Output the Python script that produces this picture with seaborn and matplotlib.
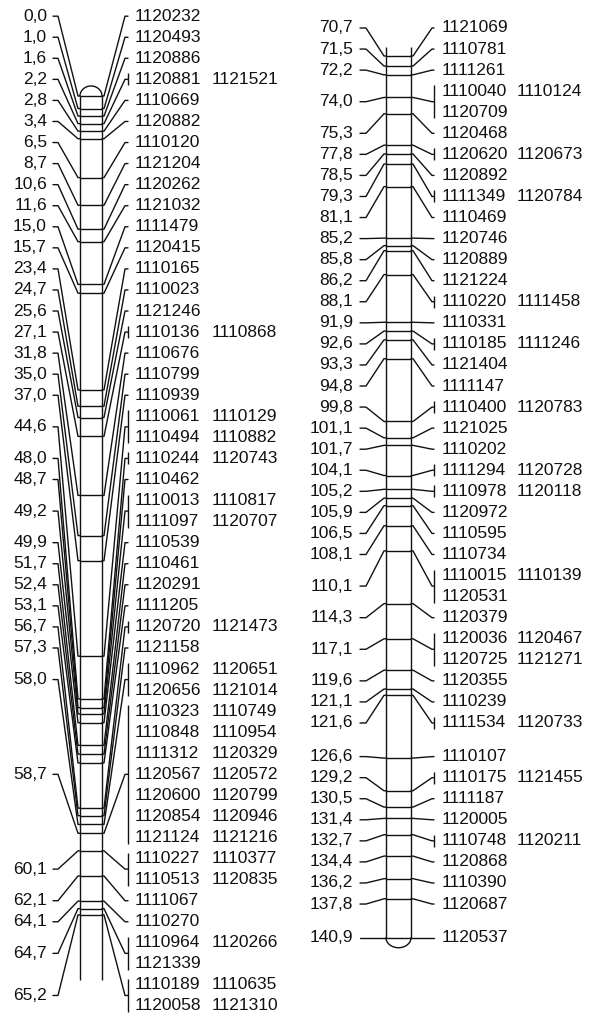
import numpy as np
import pandas as pd
import matplotlib
matplotlib.use("Agg")
import matplotlib.pyplot as plt
import seaborn as sns

# ---------------- data ----------------
left_cm = [0.0, 1.0, 1.6, 2.2, 2.8, 3.4, 6.5, 8.7, 10.6, 11.6, 15.0, 15.7, 23.4, 24.7,
           25.6, 27.1, 31.8, 35.0, 37.0, 44.6, 48.0, 48.7, 49.2, 49.9, 51.7, 52.4, 53.1,
           56.7, 57.3, 58.0, 58.7, 60.1, 62.1, 64.1, 64.7, 65.2]
left_markers = [
    ["1120232"], ["1120493"], ["1120886"], ["1120881", "1121521"], ["1110669"],
    ["1120882"], ["1110120"], ["1121204"], ["1120262"], ["1121032"], ["1111479"],
    ["1120415"], ["1110165"], ["1110023"], ["1121246"], ["1110136", "1110868"],
    ["1110676"], ["1110799"], ["1110939"],
    ["1110061", "1110129", "1110494", "1110882"], ["1110244", "1120743"], ["1110462"],
    ["1110013", "1110817", "1111097", "1120707"], ["1110539"], ["1110461"], ["1120291"],
    ["1111205"], ["1120720", "1121473"], ["1121158"],
    ["1110962", "1120651", "1120656", "1121014"],
    ["1110323", "1110749", "1110848", "1110954", "1111312", "1120329", "1120567",
     "1120572", "1120600", "1120799", "1120854", "1120946", "1121124", "1121216"],
    ["1110227", "1110377", "1110513", "1120835"], ["1111067"], ["1110270"],
    ["1110964", "1120266", "1121339"], ["1110189", "1110635", "1120058", "1121310"]]

right_cm = [70.7, 71.5, 72.2, 74.0, 75.3, 77.8, 78.5, 79.3, 81.1, 85.2, 85.8, 86.2, 88.1,
            91.9, 92.6, 93.3, 94.8, 99.8, 101.1, 101.7, 104.1, 105.2, 105.9, 106.5, 108.1,
            110.1, 114.3, 117.1, 119.6, 121.1, 121.6, 126.6, 129.2, 130.5, 131.4, 132.7,
            134.4, 136.2, 137.8, 140.9]
right_markers = [
    ["1121069"], ["1110781"], ["1111261"], ["1110040", "1110124", "1120709"], ["1120468"],
    ["1120620", "1120673"], ["1120892"], ["1111349", "1120784"], ["1110469"], ["1120746"],
    ["1120889"], ["1121224"], ["1110220", "1111458"], ["1110331"], ["1110185", "1111246"],
    ["1121404"], ["1111147"], ["1110400", "1120783"], ["1121025"], ["1110202"],
    ["1111294", "1120728"], ["1110978", "1120118"], ["1120972"], ["1110595"], ["1110734"],
    ["1110015", "1110139", "1120531"], ["1120379"], ["1120036", "1120467", "1120725", "1121271"],
    ["1120355"], ["1110239"], ["1111534", "1120733"], ["1110107"], ["1110175", "1121455"],
    ["1111187"], ["1120005"], ["1110748", "1120211"], ["1120868"], ["1110390"], ["1120687"],
    ["1120537"]]

# ---------------- layout (pixels) ----------------
FIG_W, FIG_H = 592, 1019
PX_PER_CM = 12.56
PITCH_PX = 21.06
LW = 1.0
INK = "#111111"

layouts = [
    dict(cm=left_cm, markers=left_markers, x0=0, x1=296, ref_px=96, ref_cm=0.0,
         bar=(80, 102), cm_text_x=47, tick=(53, 58), ldiag=78, rdiag=(104, 125),
         bracket_x=128, name_x=(135, 212), lab_lo=16, lab_hi=1006,
         bar_top_px=None, bar_bot_px=980, cap="top"),
    dict(cm=right_cm, markers=right_markers, x0=296, x1=592, ref_px=56, ref_cm=70.7,
         bar=(386, 411), cm_text_x=353, tick=(360, 366), ldiag=384, rdiag=(413, 432),
         bracket_x=434, name_x=(442, 517), lab_lo=28, lab_hi=1006,
         bar_top_px=47, bar_bot_px=None, cap="bottom"),
]


def spread_labels(targets, heights, lo, hi, pitch):
    """Least-squares placement of label groups with fixed row pitch (isotonic regression)."""
    starts = np.concatenate([[0], np.cumsum(heights)[:-1]])
    offs = (starts + (np.asarray(heights) - 1) / 2.0) * pitch
    q = np.asarray(targets) - offs
    blocks = []
    for v in q:
        blocks.append([v, 1])
        while len(blocks) > 1 and blocks[-2][0] / blocks[-2][1] > blocks[-1][0] / blocks[-1][1]:
            s, c = blocks.pop()
            blocks[-1][0] += s
            blocks[-1][1] += c
    qq = np.concatenate([[s / c] * c for s, c in blocks])
    total = int(np.sum(heights))
    qq = np.clip(qq, lo, hi - (total - 1) * pitch)
    return qq, starts


sns.set_theme(style="white")
plt.rcParams["font.family"] = ["Liberation Sans", "DejaVu Sans"]

fig = plt.figure(figsize=(FIG_W / 100, FIG_H / 100), dpi=100)

for L in layouts:
    def to_cm(px, L=L):
        return L["ref_cm"] + (px - L["ref_px"]) / PX_PER_CM

    ax = fig.add_axes([L["x0"] / FIG_W, 0, (L["x1"] - L["x0"]) / FIG_W, 1])
    ax.set_xlim(L["x0"], L["x1"])
    ax.set_ylim(to_cm(FIG_H), to_cm(0))
    ax.set_axis_off()

    cms = np.asarray(L["cm"])
    heights = [int(np.ceil(len(m) / 2)) for m in L["markers"]]
    pitch = PITCH_PX / PX_PER_CM
    q, starts = spread_labels(cms, heights, to_cm(L["lab_lo"]), to_cm(L["lab_hi"]), pitch)

    bl, br = L["bar"]
    # chromosome outline
    top = cms[0] if L["bar_top_px"] is None else to_cm(L["bar_top_px"])
    bot = cms[-1] if L["bar_bot_px"] is None else to_cm(L["bar_bot_px"])
    ax.vlines([bl, br], top, bot, color=INK, lw=LW)
    t = np.linspace(0, np.pi, 60)
    xc, hw = (bl + br) / 2, (br - bl) / 2
    cap_h = 10 / PX_PER_CM
    if L["cap"] == "top":
        ax.plot(xc + hw * np.cos(t), cms[0] - cap_h * np.sin(t), color=INK, lw=LW)
    else:
        ax.plot(xc + hw * np.cos(t), cms[-1] + cap_h * np.sin(t), color=INK, lw=LW)
    # loci across the bar
    ax.hlines(cms, bl, br, color=INK, lw=LW)

    rows = []
    for i, (c, mk) in enumerate(zip(cms, L["markers"])):
        h = heights[i]
        yl = q[i] + (starts[i] + (h - 1) / 2) * pitch
        # left connector
        for x, y in [(L["tick"][0], yl), (L["tick"][1], yl), (L["ldiag"], c), (bl, c)]:
            rows.append(dict(x=x, y=y, cid=f"L{i}"))
        # right connector
        for x, y in [(br, c), (L["rdiag"][0], c), (L["rdiag"][1], yl), (L["bracket_x"], yl)]:
            rows.append(dict(x=x, y=y, cid=f"R{i}"))
        ax.text(L["cm_text_x"], yl, f"{c:.1f}".replace(".", ","), ha="right", va="center",
                fontsize=12.5, color=INK)
        y_first = q[i] + starts[i] * pitch
        y_last = q[i] + (starts[i] + h - 1) * pitch
        if len(mk) > 1:
            ext = 6 / PX_PER_CM
            ax.vlines(L["bracket_x"], y_first - ext, y_last + ext, color=INK, lw=LW)
        for j in range(h):
            yr = q[i] + (starts[i] + j) * pitch
            for k, name in enumerate(mk[2 * j:2 * j + 2]):
                ax.text(L["name_x"][k], yr, name, ha="left", va="center",
                        fontsize=12.5, color=INK)

    df = pd.DataFrame(rows)
    sns.lineplot(data=df, x="x", y="y", units="cid", estimator=None, sort=False,
                 color=INK, lw=LW, ax=ax, legend=False)
    ax.set_xlim(L["x0"], L["x1"])
    ax.set_ylim(to_cm(FIG_H), to_cm(0))
    ax.set_axis_off()

fig.savefig("out.png", dpi=100, facecolor="white")
